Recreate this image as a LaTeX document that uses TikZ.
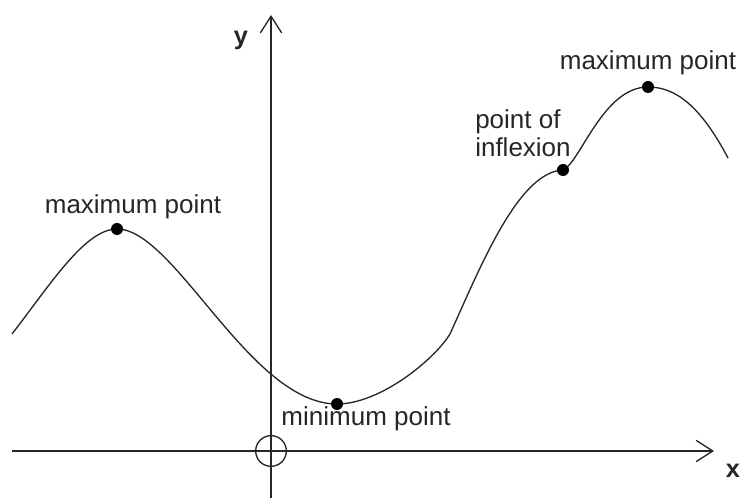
\documentclass[tikz,border=0pt]{standalone}
\usepackage{fontspec}
\setmainfont{Liberation Sans}
\usetikzlibrary{arrows.meta}
\begin{document}
\begin{tikzpicture}[x=0.75pt,y=-0.75pt,
  axis/.style={draw=black!85, line width=1.5pt, -{Straight Barb[length=12.5pt,width=16pt,line width=1pt]}},
  curve/.style={draw=black!85, line width=1pt},
  dot/.style={circle, fill=black, inner sep=0pt, minimum size=9pt},
  lbl/.style={font=\fontsize{19.5pt}{21pt}\selectfont, text=black!85, inner sep=0pt},
  axlbl/.style={font=\fontsize{19pt}{21pt}\selectfont\bfseries, text=black!85, inner sep=0pt}]
\useasboundingbox (0,0) rectangle (742,498);
\coordinate (xs) at (12,451);
\coordinate (xe) at (714,451);
\coordinate (ys) at (271,498);
\coordinate (ye) at (271,15);
\draw[axis] (xs) -- (xe);
\draw[axis] (ys) -- (ye);
\node[circle, draw=black!85, line width=1pt, minimum size=23pt, inner sep=0pt] (o) at (271,451) {};
\node[axlbl] (ylab) at (241,40) {y};
\node[axlbl] (xlab) at (733,471) {x};
\coordinate (c0) at (12,334);
\coordinate (c1) at (117,229);
\coordinate (c2) at (337,404);
\coordinate (c3) at (450,334);
\coordinate (c4) at (563,170);
\coordinate (c5) at (648,87);
\coordinate (c6) at (728,158);
\draw[curve] (c0) .. controls (50,285) and (85,229) .. (c1)
  .. controls (175,229) and (250,404) .. (c2)
  .. controls (380,404) and (434,360) .. (c3)
  .. controls (480,268) and (518,172) .. (c4)
  .. controls (580,163) and (603,87) .. (c5)
  .. controls (675,87) and (700,105) .. (c6);
\node[dot] (max1) at (c1) {};
\node[dot] (min) at (c2) {};
\node[dot] (infl) at (c4) {};
\node[dot] (max2) at (c5) {};
\node[lbl] (lmax1) at (133,207) {maximum point};
\node[lbl] (lmin) at (366,419) {minimum point};
\node[lbl, anchor=west, align=left, font=\fontsize{19.5pt}{21pt}\selectfont] (linfl) at (475,133) {point of\\inflexion};
\node[lbl] (lmax2) at (648,63) {maximum point};
\end{tikzpicture}
\end{document}
